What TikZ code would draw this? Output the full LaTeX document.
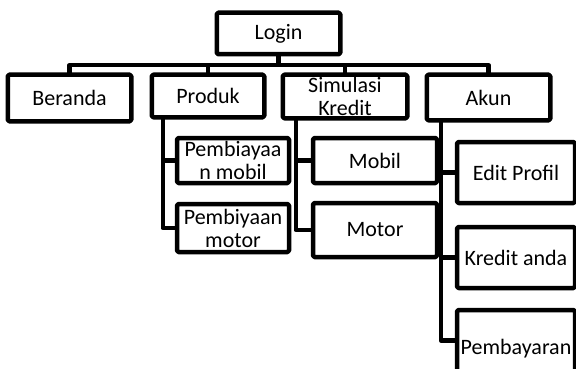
\documentclass[tikz,border=0pt]{standalone}
\usepackage{fontspec}
\setmainfont{Carlito}
\usetikzlibrary{positioning}

\begin{document}
\begin{tikzpicture}[x=1pt,y=-1pt,line width=4.5pt,line join=round,font=\fontsize{22}{23}\selectfont]
\tikzstyle{every node}=[fill=white,inner sep=0pt,align=center]
\useasboundingbox (0,0) rectangle (576,369);
% top level
\node[minimum width=119pt,minimum height=37pt] (login) at (278.5,33.5) {Login};
\node[minimum width=119pt,minimum height=42pt] (beranda) at (69.5,98) {Beranda};
\node[minimum width=108pt,minimum height=38pt] (produk) at (208,96) {Produk};
\node[minimum width=120pt,minimum height=39pt] (simulasi) at (345,96.5) {Simulasi\\Kredit};
\node[minimum width=119pt,minimum height=41pt] (akun) at (488.5,97.5) {Akun};
% produk
\node[minimum width=107.5pt,minimum height=40.5pt] (biayamobil) at (233,160.5) {Pembiayaa\\n mobil};
\node[minimum width=107.5pt,minimum height=43.5pt] (biayamotor) at (233,228) {Pembiyaan\\motor};
% simulasi kredit
\node[minimum width=119.5pt,minimum height=40.5pt] (mobil) at (375,160.5) {Mobil};
\node[minimum width=119.5pt,minimum height=49.5pt] (motor) at (375,230) {Motor};
% akun
\node[minimum width=113.5pt,minimum height=56.5pt] (profil) at (516,172.5) {Edit Profil};
\node[minimum width=113.5pt,minimum height=56.5pt] (kredit) at (516,257.5) {Kredit anda};
\node[minimum width=113.5pt,minimum height=72pt] (bayar) at (516,348.25) {Pembayaran};

% frames over the text
\foreach \n in {login,beranda,produk,simulasi,akun,biayamobil,biayamotor,mobil,motor,profil,kredit,bayar}
  \draw[rounded corners=1.5pt] (\n.south west) rectangle (\n.north east);

\draw (login.south) -- ++(0,11) coordinate (bus);
\draw (beranda.north) |- (bus) -| (akun.north);
\draw (produk.north) -- (produk.north |- bus);
\draw (simulasi.north) -- (simulasi.north |- bus);
\draw ([xshift=11pt]produk.south west) |- (biayamobil.west)
      ([xshift=11pt]produk.south west) |- (biayamotor.west);
\draw ([xshift=13pt]simulasi.south west) |- (mobil.west)
      ([xshift=13pt]simulasi.south west) |- (motor.west);
\foreach \n in {profil,kredit}
  \draw ([xshift=14pt]akun.south west) |- (\n.west);
\draw ([xshift=14pt]akun.south west) |- ([yshift=8pt]bayar.west);
\end{tikzpicture}
\end{document}
